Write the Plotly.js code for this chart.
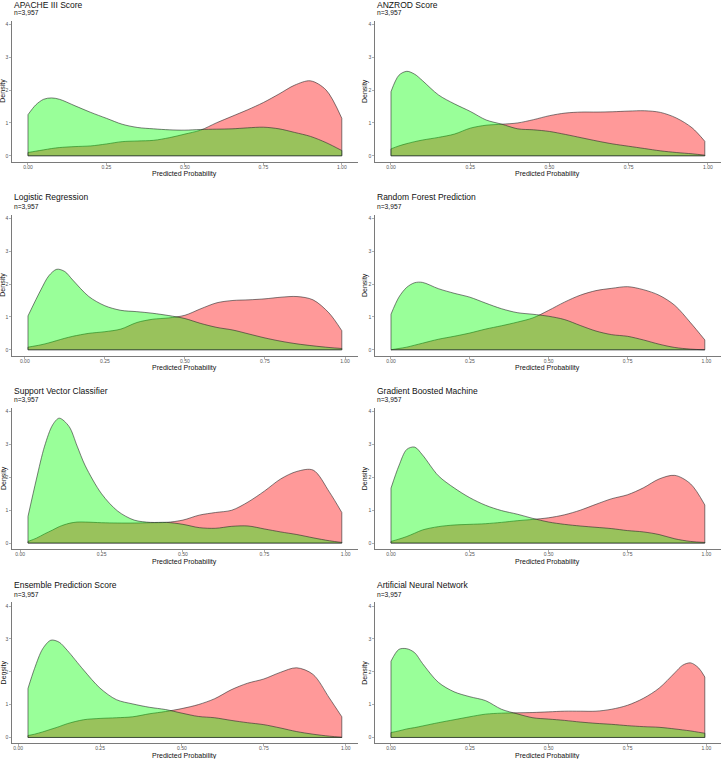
<!DOCTYPE html>
<html>
<head>
<meta charset="utf-8">
<script src="https://cdn.plot.ly/plotly-3.0.1.min.js"></script>
<style>html,body{margin:0;padding:0;background:#fff;}#chart{width:722px;height:759px;}</style>
</head>
<body>
<div id="chart"></div>
<script>
// ---------- DATA (density estimates) ----------
const panelTitles = ['APACHE III Score','ANZROD Score','Logistic Regression','Random Forest Prediction',
  'Support Vector Classifier','Gradient Boosted Machine','Ensemble Prediction Score','Artificial Neural Network'];
const subtitle = 'n=3,957';
const xTickVals = [0, 0.25, 0.5, 0.75, 1];
const xTickLabels = ['0.00','0.25','0.50','0.75','1.00'];
const yTickVals = [0, 1, 2, 3, 4];
const yTickLabels = ['0','1','2','3','4'];

const apache_x     = [0,0.025,0.05,0.075,0.1,0.15,0.2,0.25,0.3,0.35,0.4,0.45,0.5,0.55,0.6,0.65,0.7,0.75,0.8,0.85,0.9,0.95,1.0];
const apache_green = [1.25,1.55,1.72,1.76,1.72,1.52,1.32,1.14,0.96,0.86,0.82,0.79,0.78,0.80,0.81,0.82,0.85,0.87,0.82,0.71,0.59,0.40,0.16];
const apache_red   = [0.10,0.14,0.18,0.22,0.25,0.28,0.30,0.36,0.43,0.45,0.47,0.55,0.66,0.78,1.00,1.20,1.40,1.62,1.88,2.15,2.28,2.00,1.14];

const anzrod_x     = [0,0.025,0.05,0.075,0.1,0.15,0.2,0.25,0.3,0.35,0.4,0.45,0.5,0.55,0.6,0.65,0.7,0.75,0.8,0.85,0.9,0.95,0.99];
const anzrod_green = [1.95,2.45,2.57,2.48,2.28,1.85,1.58,1.35,1.09,0.96,0.82,0.79,0.74,0.65,0.55,0.45,0.36,0.29,0.22,0.15,0.10,0.06,0.02];
const anzrod_red   = [0.21,0.30,0.37,0.43,0.48,0.56,0.66,0.84,0.93,0.96,1.00,1.10,1.22,1.30,1.33,1.33,1.34,1.36,1.37,1.32,1.15,0.85,0.44];

const logit_x      = [0.01,0.05,0.075,0.1,0.125,0.15,0.2,0.25,0.3,0.35,0.4,0.45,0.5,0.55,0.6,0.65,0.7,0.75,0.8,0.85,0.9,0.95,0.99];
const logit_green  = [1.03,1.82,2.25,2.45,2.38,2.12,1.62,1.34,1.20,1.16,1.11,1.04,0.95,0.80,0.68,0.60,0.48,0.36,0.26,0.18,0.12,0.07,0.04];
const logit_red    = [0.08,0.15,0.21,0.28,0.35,0.41,0.50,0.55,0.63,0.83,0.93,0.97,1.05,1.25,1.43,1.50,1.52,1.55,1.60,1.62,1.52,1.12,0.58];

const rf_x         = [0,0.025,0.05,0.075,0.1,0.15,0.2,0.25,0.3,0.35,0.4,0.45,0.5,0.55,0.6,0.65,0.7,0.75,0.8,0.85,0.9,0.95,0.995];
const rf_green     = [1.08,1.60,1.90,2.04,2.05,1.86,1.72,1.60,1.42,1.25,1.13,1.08,1.02,0.92,0.74,0.57,0.46,0.41,0.30,0.17,0.07,0.02,0.00];
const rf_red       = [0.00,0.04,0.08,0.14,0.20,0.32,0.41,0.51,0.63,0.73,0.84,0.97,1.20,1.45,1.66,1.80,1.87,1.92,1.83,1.66,1.35,0.82,0.30];

const svc_x        = [0.024,0.05,0.075,0.1,0.12,0.15,0.175,0.2,0.25,0.3,0.35,0.4,0.45,0.5,0.55,0.6,0.65,0.7,0.75,0.8,0.85,0.9,0.95,0.988];
const svc_green    = [0.81,1.95,2.95,3.60,3.80,3.55,2.95,2.35,1.50,0.97,0.70,0.63,0.63,0.57,0.47,0.45,0.51,0.52,0.43,0.34,0.26,0.16,0.07,0.02];
const svc_red      = [0.05,0.15,0.28,0.40,0.50,0.60,0.64,0.64,0.62,0.61,0.61,0.62,0.63,0.70,0.85,0.93,1.00,1.25,1.58,1.95,2.18,2.22,1.55,0.93];

const gbm_x        = [0,0.025,0.05,0.075,0.1,0.15,0.2,0.25,0.3,0.35,0.4,0.45,0.5,0.55,0.6,0.65,0.7,0.75,0.8,0.85,0.9,0.95,0.995];
const gbm_green    = [1.67,2.35,2.85,2.92,2.68,2.05,1.68,1.38,1.15,0.99,0.88,0.75,0.64,0.57,0.52,0.48,0.44,0.38,0.34,0.26,0.13,0.05,0.02];
const gbm_red      = [0.05,0.12,0.20,0.30,0.40,0.50,0.55,0.57,0.59,0.63,0.68,0.72,0.77,0.86,1.00,1.18,1.35,1.47,1.68,1.95,2.06,1.80,1.16];

const ens_x        = [0.03,0.05,0.075,0.1,0.125,0.15,0.2,0.25,0.3,0.35,0.4,0.45,0.5,0.55,0.6,0.65,0.7,0.75,0.8,0.85,0.9,0.95,0.988];
const ens_green    = [1.49,2.10,2.70,2.96,2.90,2.65,2.05,1.50,1.15,1.02,0.92,0.85,0.74,0.64,0.60,0.52,0.45,0.39,0.29,0.18,0.10,0.04,0.01];
const ens_red      = [0.06,0.10,0.17,0.25,0.33,0.42,0.54,0.58,0.60,0.63,0.72,0.79,0.88,1.00,1.18,1.45,1.65,1.78,1.98,2.12,1.92,1.20,0.63];

const ann_x        = [0,0.025,0.05,0.075,0.1,0.15,0.2,0.25,0.3,0.35,0.4,0.45,0.5,0.55,0.6,0.65,0.7,0.75,0.8,0.85,0.9,0.925,0.95,0.975,0.995];
const ann_green    = [2.32,2.68,2.70,2.58,2.25,1.68,1.39,1.24,1.12,0.86,0.72,0.60,0.56,0.52,0.47,0.43,0.40,0.36,0.33,0.31,0.26,0.23,0.20,0.16,0.13];
const ann_red      = [0.15,0.20,0.26,0.30,0.35,0.45,0.54,0.63,0.71,0.74,0.75,0.76,0.78,0.80,0.80,0.80,0.86,0.98,1.19,1.50,1.97,2.20,2.27,2.12,1.84];

const panelX     = [apache_x, anzrod_x, logit_x, rf_x, svc_x, gbm_x, ens_x, ann_x];
const panelGreen = [apache_green, anzrod_green, logit_green, rf_green, svc_green, gbm_green, ens_green, ann_green];
const panelRed   = [apache_red, anzrod_red, logit_red, rf_red, svc_red, gbm_red, ens_red, ann_red];

// ---------- STYLE / LAYOUT ----------
const W = 722, H = 759;
const colX = [[12.3, 357.5], [375.3, 720.5]];
const rowTop = [20.7, 214.7, 408, 602.4];
const PH = 141;
const FONT = 'Liberation Sans, Arial, sans-serif';
const redFill = 'rgba(255,0,0,0.4)';
const greenFill = 'rgba(0,255,0,0.4)';
const outline = '#2a2a2a';
const axisCol = '#7a7a7a';

const traces = [];
const layout = {
  width: W, height: H,
  margin: {l: 0, r: 0, t: 0, b: 0},
  paper_bgcolor: '#fff', plot_bgcolor: 'rgba(0,0,0,0)',
  showlegend: false, hovermode: false,
  font: {family: FONT},
  annotations: []
};

function addDensity(x, y, fill, xa, ya) {
  traces.push({
    type: 'scatter', mode: 'lines', x: x, y: y, xaxis: xa, yaxis: ya,
    fill: 'tozeroy', fillcolor: fill,
    line: {color: outline, width: 0.6, shape: 'spline', smoothing: 0.9},
    hoverinfo: 'skip'
  });
  const n = x.length - 1;
  traces.push({
    type: 'scatter', mode: 'lines',
    x: [x[0], x[0], x[n], x[n]], y: [y[0], 0, 0, y[n]],
    xaxis: xa, yaxis: ya,
    line: {color: outline, width: 0.6}, hoverinfo: 'skip'
  });
}

for (let i = 0; i < 8; i++) {
  const row = Math.floor(i / 2), col = i % 2;
  const xa = i === 0 ? 'x' : 'x' + (i + 1);
  const ya = i === 0 ? 'y' : 'y' + (i + 1);
  const xs = panelX[i];
  const xmin = Math.min(...xs), xmax = Math.max(...xs);
  const pad = 0.05 * (xmax - xmin);
  addDensity(xs, panelRed[i], redFill, xa, ya);
  addDensity(xs, panelGreen[i], greenFill, xa, ya);

  const top = rowTop[row];
  const xd = [colX[col][0] / W, colX[col][1] / W];
  const yd = [1 - (top + PH) / H, 1 - top / H];
  layout[xa === 'x' ? 'xaxis' : 'xaxis' + (i + 1)] = {
    domain: xd, anchor: ya, range: [xmin - pad, xmax + pad],
    showline: true, linecolor: axisCol, linewidth: 1,
    ticks: 'outside', ticklen: 2, tickwidth: 0.6, tickcolor: axisCol,
    ticklabelstandoff: -2,
    tickvals: xTickVals, ticktext: xTickLabels,
    tickfont: {size: 5, color: '#555', family: FONT},
    showgrid: false, zeroline: false, fixedrange: true
  };
  layout[ya === 'y' ? 'yaxis' : 'yaxis' + (i + 1)] = {
    domain: yd, anchor: xa, range: [-0.18, 4.11],
    showline: true, linecolor: axisCol, linewidth: 1,
    ticks: 'outside', ticklen: 2, tickwidth: 0.6, tickcolor: axisCol,
    tickvals: yTickVals, ticktext: yTickLabels,
    tickfont: {size: 5, color: '#555', family: FONT},
    showgrid: false, zeroline: false, fixedrange: true
  };
  // panel title and subtitle
  layout.annotations.push({
    xref: 'paper', yref: 'paper', x: xd[0], y: 1 - Math.max(top - 17.3, 4.6) / H,
    xanchor: 'left', yanchor: 'middle', showarrow: false,
    text: panelTitles[i], font: {size: 8.5, color: '#111', family: FONT}
  });
  layout.annotations.push({
    xref: 'paper', yref: 'paper', x: xd[0], y: 1 - (top - 8.3) / H,
    xanchor: 'left', yanchor: 'middle', showarrow: false,
    text: subtitle, font: {size: 6.7, color: '#111', family: FONT}
  });
  // axis titles
  layout.annotations.push({
    xref: 'paper', yref: 'paper', x: (col === 0 ? 3.5 : 364.8) / W, y: (yd[0] + yd[1]) / 2,
    xanchor: 'center', yanchor: 'middle', showarrow: false, textangle: -90,
    text: 'Density', font: {size: 7, color: '#111', family: FONT}
  });
  layout.annotations.push({
    xref: 'paper', yref: 'paper', x: (xd[0] + xd[1]) / 2, y: 1 - (top + PH + 12.5) / H,
    xanchor: 'center', yanchor: 'middle', showarrow: false,
    text: 'Predicted Probability', font: {size: 7, color: '#111', family: FONT}
  });
}

Plotly.newPlot('chart', traces, layout, {staticPlot: true, displayModeBar: false});
</script>
</body>
</html>
